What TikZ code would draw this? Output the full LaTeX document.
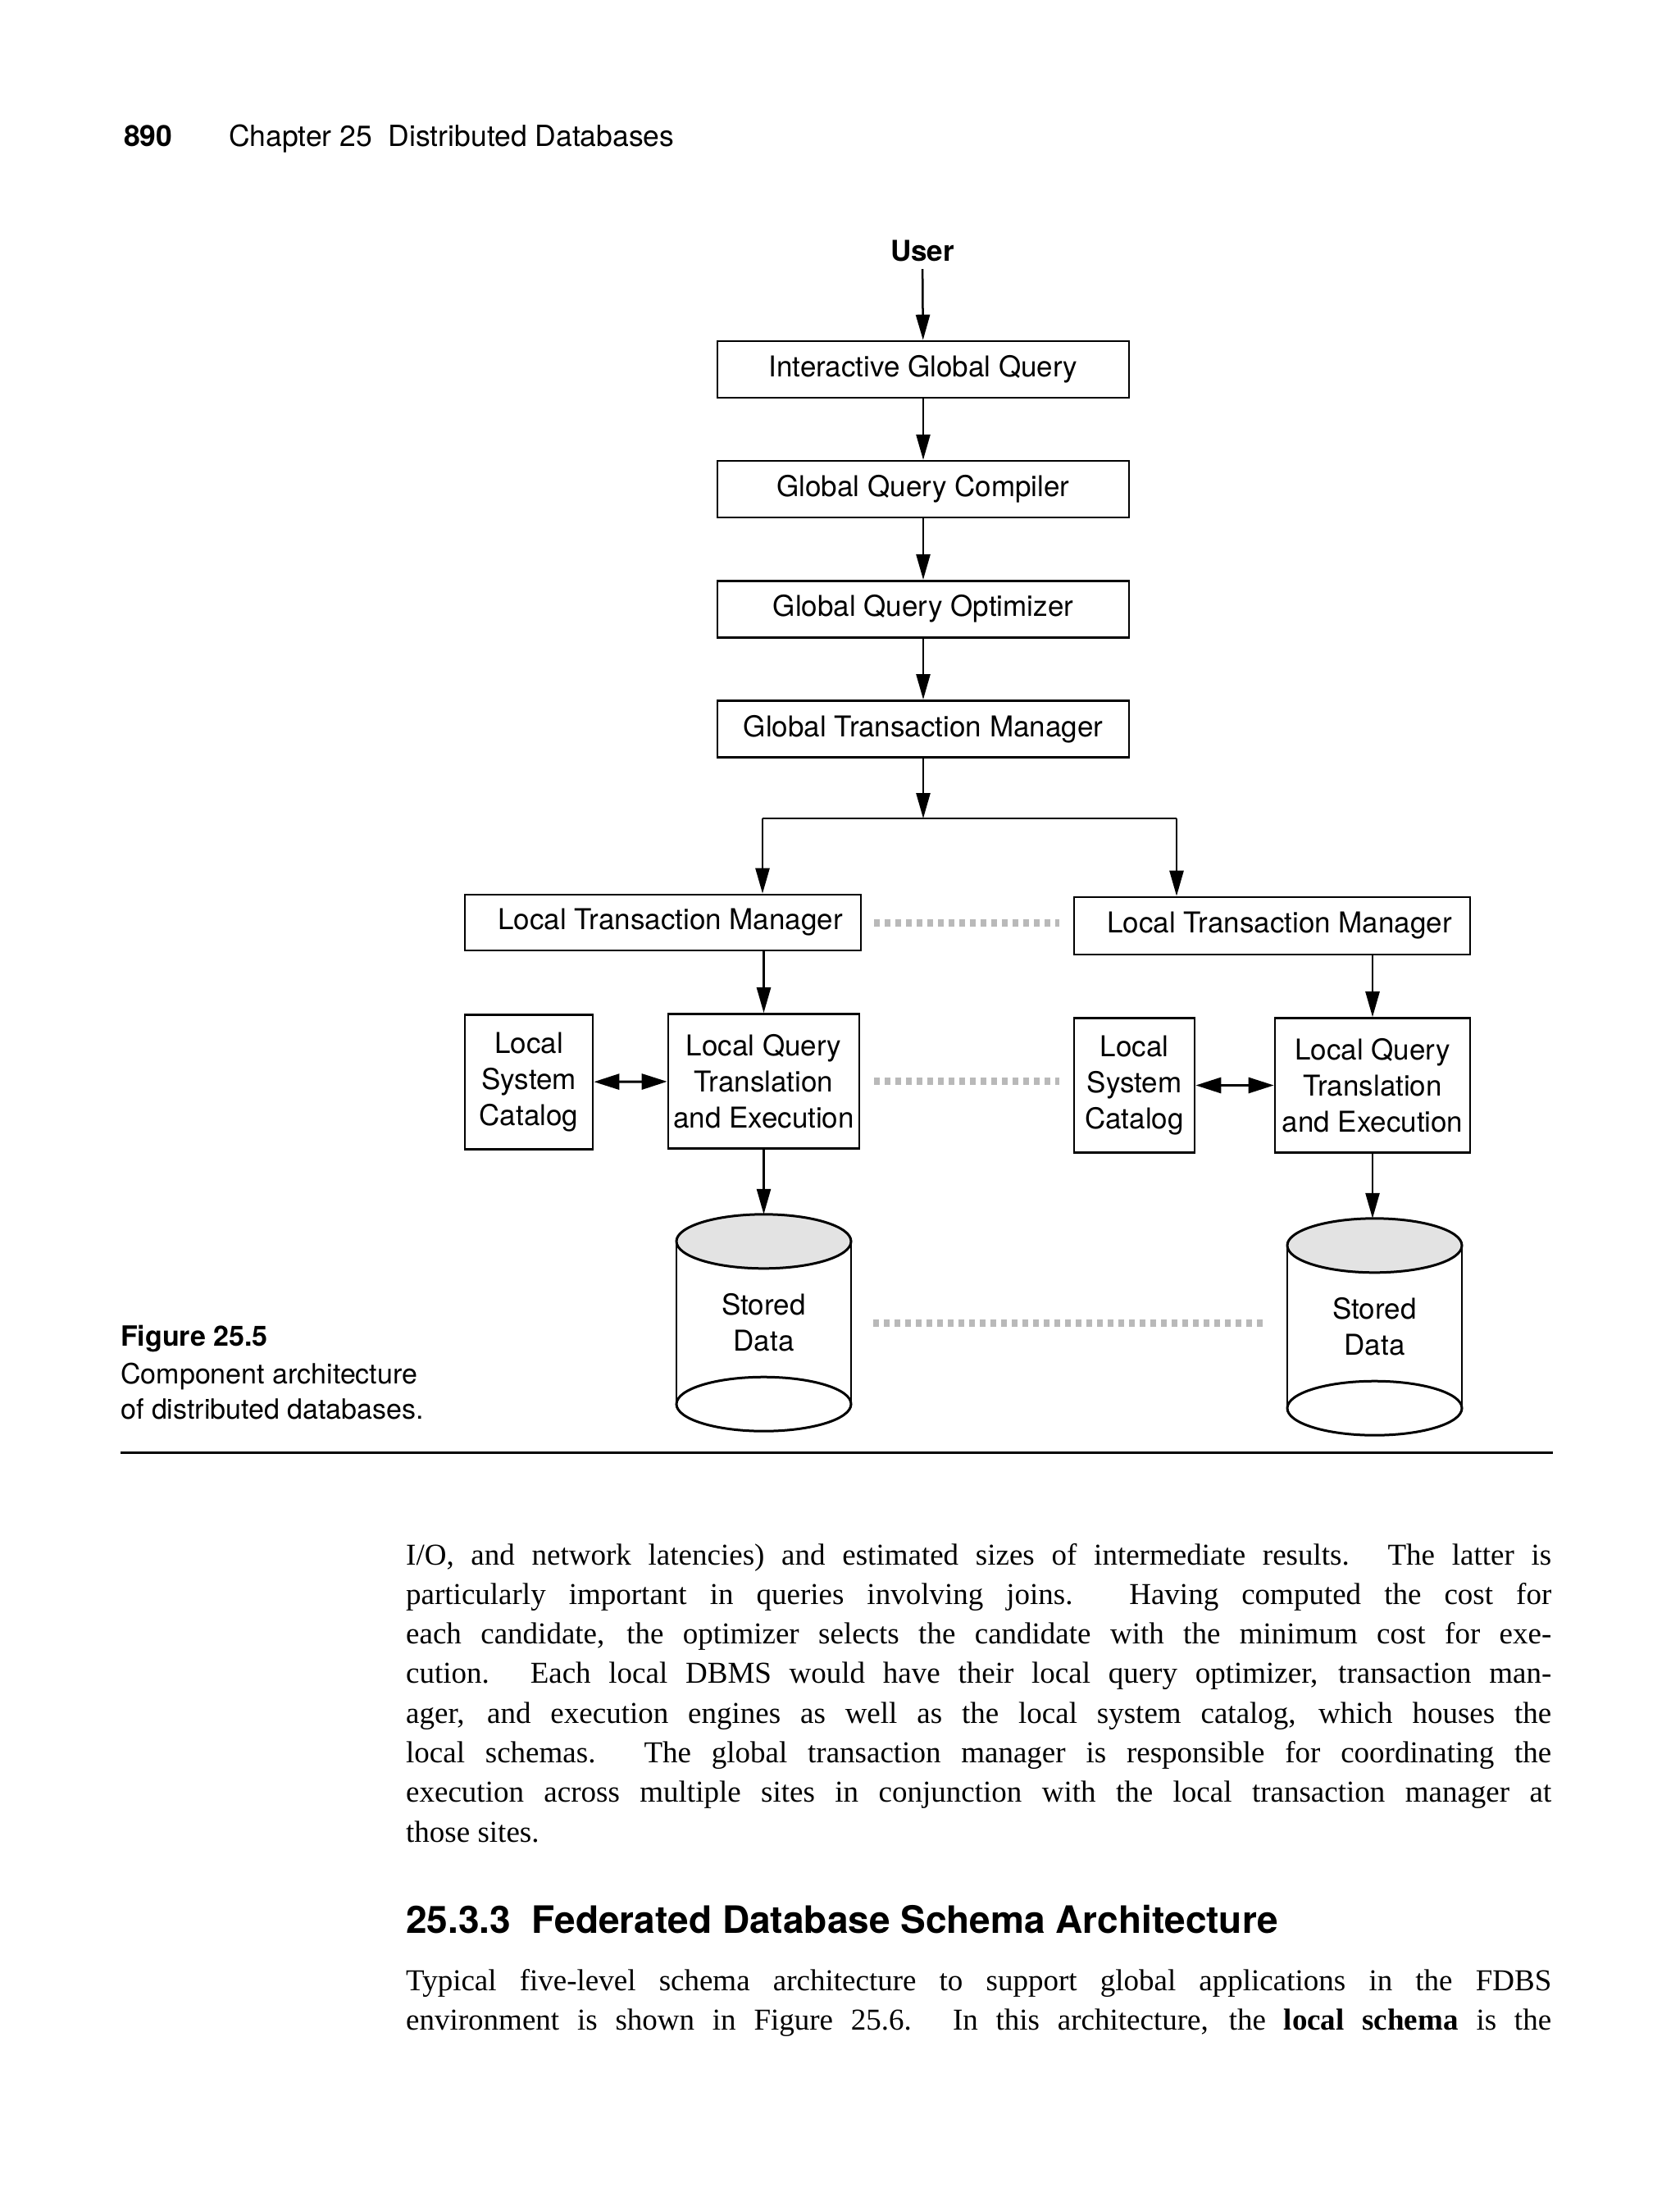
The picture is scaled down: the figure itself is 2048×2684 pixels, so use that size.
\documentclass[tikz,border=0pt]{standalone}
\usepackage{fontspec}
\setmainfont{Liberation Serif}
\setsansfont{TeX Gyre Heros}
\usetikzlibrary{arrows.meta, positioning}

\begin{document}
\begin{tikzpicture}[
    x=1pt, y=1pt,
    node distance=74.5pt and 74.5pt,
    every node/.style={align=center},
    box/.style={rectangle, draw, line width=2.6pt, font=\sffamily\fontsize{35}{44}\selectfont, minimum width=502pt, minimum height=69pt, inner sep=0pt},
    catalog/.style={rectangle, draw, line width=2.6pt, font=\sffamily\fontsize{35}{44}\selectfont, minimum height=164pt, inner sep=0pt},
    store/.style={rectangle, font=\sffamily\fontsize{35}{44}\selectfont, minimum width=213pt, minimum height=264pt, inner sep=0pt},
    pagehead/.style={anchor=base west, inner sep=0pt, font=\sffamily\fontsize{35.5}{40}\selectfont},
    caption/.style={anchor=base west, inner sep=0pt, font=\sffamily\fontsize{34}{44}\selectfont},
    bodyline/.style={anchor=base west, inner sep=0pt, font=\rmfamily\fontsize{37}{48}\selectfont},
    arrow/.style={-{Triangle[length=31pt, width=17pt]}, line width=2.5pt},
    biarrow/.style={{Triangle[length=31pt, width=19pt]}-{Triangle[length=31pt, width=19pt]}, line width=3pt},
    link/.style={draw=gray!55, line width=9pt, dash pattern=on 7pt off 6pt}
]
\fill[white] (0,0) rectangle (2048,-2684);
\useasboundingbox (0,0) rectangle (2048,-2684);

% Page head
\node[pagehead, font=\sffamily\bfseries\fontsize{35.5}{40}\selectfont] (pagenum) at (151,-179) {890};
\node[pagehead] (chapter) at (279,-179) {Chapter 25~~Distributed Databases};

% Nodes
\node[font=\sffamily\bfseries\fontsize{35}{40}\selectfont, inner sep=9pt] (user) at (1125,-306) {User};
\node[box] (igq) at (1126,-450.5) {Interactive Global Query};
\node[box, below=of igq] (gqc) {Global Query Compiler};
\node[box, below=of gqc] (gqo) {Global Query Optimizer};
\node[box, below=of gqo] (gtm) {Global Transaction Manager};
\coordinate (fork) at (1126,-998);
\coordinate (forkL) at (930,-998);
\coordinate (forkR) at (1435,-998);

\node[box, minimum width=483pt, minimum height=68pt] (ltm1) at (808.5,-1125) {\hspace*{18pt}Local Transaction Manager};
\node[box, minimum width=483pt, minimum height=70pt] (ltm2) at (1551.5,-1129) {\hspace*{18pt}Local Transaction Manager};
\node[catalog, minimum width=156pt] (lsc1) at (645,-1319.5) {Local\\System\\Catalog};
\node[catalog, minimum width=233pt] (lqte1) at (931.5,-1318.5) {Local Query\\Translation\\and Execution};
\node[catalog, minimum width=147pt] (lsc2) at (1383.5,-1323.5) {Local\\System\\Catalog};
\node[catalog, minimum width=238pt] (lqte2) at (1674,-1323.5) {Local Query\\Translation\\and Execution};
\node[store] (data1) at (931.5,-1613) {Stored\\Data};
\node[store] (data2) at (1676.5,-1618) {Stored\\Data};

% Cylinders
\foreach \d in {data1,data2} {
  \fill[gray!22] ([yshift=-33pt]\d.north) ellipse [x radius=106.5pt, y radius=33pt];
  \draw[line width=3pt] ([yshift=-33pt]\d.north) ellipse [x radius=106.5pt, y radius=33pt];
  \draw[line width=3pt] ([yshift=33pt]\d.south) ellipse [x radius=106.5pt, y radius=33pt];
  \draw[line width=2pt] ([yshift=-33pt]\d.north west) -- ([yshift=33pt]\d.south west);
  \draw[line width=2pt] ([yshift=-33pt]\d.north east) -- ([yshift=33pt]\d.south east);
}

% Connections
\draw[arrow] (user) -- (igq);
\draw[arrow] (igq) -- (gqc);
\draw[arrow] (gqc) -- (gqo);
\draw[arrow] (gqo) -- (gtm);
\draw[arrow] (gtm) -- (fork);
\draw[line width=2.5pt] (forkL) -- (forkR);
\draw[arrow] (forkL) -- (forkL |- ltm1.north);
\draw[arrow] (forkR) -- (forkR |- ltm2.north);
\draw[arrow] (ltm1.south -| lqte1.north) -- (lqte1.north);
\draw[arrow] (ltm2.south -| lqte2.north) -- (lqte2.north);
\draw[biarrow] (lsc1) -- (lqte1);
\draw[biarrow] (lsc2) -- (lqte2);
\draw[arrow] (lqte1) -- (data1);
\draw[arrow] (lqte2.south) -- (lqte2.south |- data2.north);
\draw[link, shorten <=15pt, shorten >=17pt] (ltm1.east) -- (ltm1.east -| ltm2.west);
\draw[link, shorten <=17pt, shorten >=17pt] (lqte1.east) -- (lqte1.east -| lsc2.west);
\draw[link, shorten <=27pt, shorten >=24pt] (data1.east) -- (data1.east -| data2.west);

% Caption
\node[caption, font=\sffamily\bfseries\fontsize{34}{44}\selectfont] (figlabel) at (147,-1641) {Figure 25.5};
\node[caption] (figtext1) at (147,-1687) {Component architecture};
\node[caption] (figtext2) at (147,-1730) {of distributed databases.};
\draw[line width=3pt] (147,-1771) -- (1894,-1771);

% Body text
\foreach \txt [count=\i] in {
  {I/O, and network latencies) and estimated sizes of intermediate results. The latter is},
  {particularly important in queries involving joins. Having computed the cost for},
  {each candidate, the optimizer selects the candidate with the minimum cost for exe-},
  {cution. Each local DBMS would have their local query optimizer, transaction man-},
  {ager, and execution engines as well as the local system catalog, which houses the},
  {local schemas. The global transaction manager is responsible for coordinating the},
  {execution across multiple sites in conjunction with the local transaction manager at}}
  \node[bodyline] (para\i) at (495,{-1908-48.3*(\i-1)}) {\makebox[1397pt][s]{\txt}};
\node[bodyline] (para8) at (495,-2246) {those sites.};

\node[anchor=base west, inner sep=0pt, font=\sffamily\bfseries\fontsize{46}{50}\selectfont] (heading) at (495,-2357) {25.3.3~~Federated Database Schema Architecture};

\node[bodyline] (next1) at (495,-2427) {\makebox[1397pt][s]{Typical five-level schema architecture to support global applications in the FDBS}};
\node[bodyline] (next2) at (495,-2475) {\makebox[1397pt][s]{environment is shown in Figure 25.6. In this architecture, the \textbf{local schema} is the}};

\end{tikzpicture}
\end{document}
